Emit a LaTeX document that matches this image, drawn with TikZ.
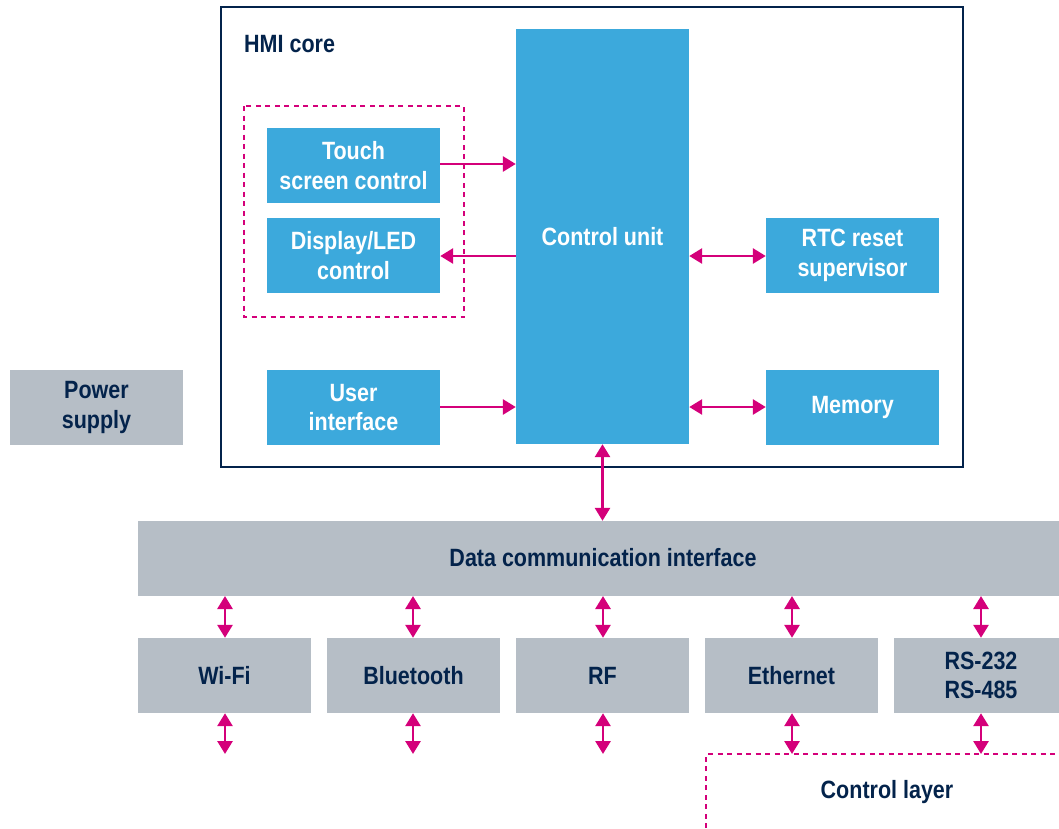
\documentclass[tikz,border=0pt]{standalone}
\usepackage{fontspec}
\setmainfont{Liberation Sans}[FakeStretch=0.86, BoldFont=Liberation Sans Bold, BoldFeatures={FakeStretch=0.86}]
\usetikzlibrary{arrows.meta}
\definecolor{navy}{HTML}{03234B}
\definecolor{stblue}{HTML}{3CA9DC}
\definecolor{stgray}{HTML}{B6BEC6}
\definecolor{stpink}{HTML}{D4007A}
\newcommand{\dfont}{\fontsize{25}{29.5}\selectfont\bfseries}
\tikzset{
  bluebox/.style={fill=stblue, text=white, align=center, inner sep=0pt, font=\dfont},
  graybox/.style={fill=stgray, text=navy, align=center, inner sep=0pt, font=\dfont},
  conn/.style={draw=stpink, line width=2.8pt, arrows={-Triangle[width=15pt,length=13pt]}},
  biconn/.style={draw=stpink, line width=2.8pt, arrows={Triangle[width=15pt,length=13pt]-Triangle[width=15pt,length=13pt]}},
  dashbox/.style={draw=stpink, line width=2.4pt, dash pattern=on 5pt off 4.5pt},
  lbl/.style={text=navy, font=\dfont, inner sep=0pt}
}
\begin{document}
\begin{tikzpicture}[x=1pt,y=-1pt]
\useasboundingbox (0,0) rectangle (1059,828);
% HMI core frame
\draw[navy, line width=2.4pt] (221,7) rectangle (963,467);
\node[lbl, anchor=west] (hmi) at (244,44) {HMI core};
% dashed group
\draw[dashbox] (244,106) rectangle (464,317);
% blue boxes
\node[bluebox, minimum width=173pt, minimum height=75pt] (touch) at (353.5,165.5) {Touch\\screen control};
\node[bluebox, minimum width=173pt, minimum height=75pt] (disp) at (353.5,255.5) {Display/LED\\control};
\node[bluebox, minimum width=173pt, minimum height=75pt] (user) at (353.5,407.5) {User\\interface};
\node[bluebox, minimum width=173pt, minimum height=415pt] (cu) at (602.5,236.5) {};
\node[text=white, font=\dfont, inner sep=0pt] (cutext) at (602.5,237) {Control unit};
\node[bluebox, minimum width=173pt, minimum height=75pt] (rtc) at (852.5,255.5) {RTC reset\\supervisor};
\node[bluebox, minimum width=173pt, minimum height=75pt] (mem) at (852.5,407.5) {Memory};
% power supply
\node[graybox, minimum width=173pt, minimum height=75pt] (power) at (96.5,407.5) {Power\\supply};
% data communication interface
\node[graybox, minimum width=921pt, minimum height=75pt] (dci) at (598.5,558.5) {};
\node[text=navy, font=\dfont, inner sep=0pt] (dcitext) at (603,558) {Data communication interface};
% interfaces
\node[graybox, minimum width=173pt, minimum height=75pt] (wifi) at (224.5,675.5) {Wi-Fi};
\node[graybox, minimum width=173pt, minimum height=75pt] (bt) at (413.5,675.5) {Bluetooth};
\node[graybox, minimum width=173pt, minimum height=75pt] (rf) at (602.5,675.5) {RF};
\node[graybox, minimum width=173pt, minimum height=75pt] (eth) at (791.5,675.5) {Ethernet};
\node[graybox, minimum width=165pt, minimum height=75pt] (rs) at (976.5,675.5) {};
\node[text=navy, font=\dfont, align=center, inner sep=0pt] (rstext) at (981,675.5) {RS-232\\RS-485};
% control layer
\draw[dashbox] (706,828) -- (706,754) -- (1059,754);
\node[lbl] (cl) at (887,792) {Control layer};
% arrows inside HMI
\draw[conn] (touch.east |- 0,164) -- (cu.west |- 0,164);
\draw[conn] (cu.west |- 0,256) -- (disp.east |- 0,256);
\draw[conn] (user.east |- 0,407) -- (cu.west |- 0,407);
\draw[biconn] (cu.east |- 0,256) -- (rtc.west |- 0,256);
\draw[biconn] (cu.east |- 0,407) -- (mem.west |- 0,407);
\draw[biconn] (cu.south) -- (cu.south |- dci.north);
% arrows to interfaces
\foreach \n/\xx in {wifi/225, bt/413, rf/603, eth/792, rs/981}{
  \draw[biconn] (\xx,596) -- (\n.north -| \xx,0);
  \coordinate (\n-end) at (\xx,754);
  \draw[biconn] (\n.south -| \xx,0) -- (\n-end);
}
\end{tikzpicture}
\end{document}
